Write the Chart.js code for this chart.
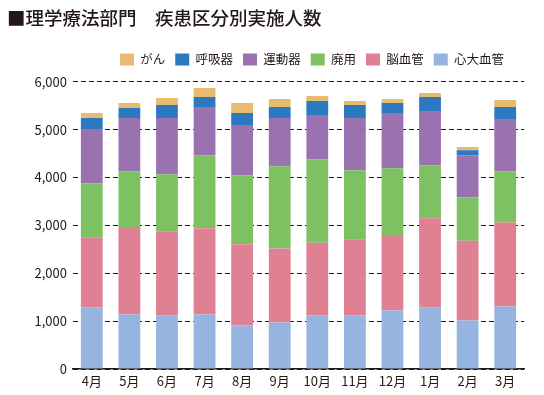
<!DOCTYPE html>
<html lang="ja">
<head>
<meta charset="utf-8">
<script src="https://cdn.jsdelivr.net/npm/chart.js@4/dist/chart.umd.min.js"></script>
<style>
  html, body { margin: 0; padding: 0; background: #fff; }
  #wrap { width: 544px; height: 395px; }
</style>
</head>
<body>
<div id="wrap"><canvas id="diseaseChart"></canvas></div>
<script>
// --- data ---
const months = ['4月', '5月', '6月', '7月', '8月', '9月', '10月', '11月', '12月', '1月', '2月', '3月'];

const cardiac     = [1284, 1137, 1117, 1137,  907,  970, 1117, 1117, 1221, 1284, 1012, 1305]; // 心大血管
const cerebral    = [1466, 1829, 1758, 1801, 1696, 1549, 1521, 1591, 1577, 1863, 1668, 1752]; // 脳血管
const disuse      = [1130, 1165, 1193, 1528, 1444, 1717, 1744, 1444, 1396, 1110,  907, 1074]; // 廃用
const locomotor   = [1131, 1110, 1173, 1005, 1047, 1005,  922, 1089, 1151, 1130,  879, 1089]; // 運動器
const respiratory = [ 230,  209,  272,  209,  251,  230,  293,  272,  210,  293,  105,  251]; // 呼吸器
const cancer      = [ 104,  105,  146,  189,  210,  168,  104,   84,   84,   84,   63,  147]; // がん

const yTicks = [0, 1000, 2000, 3000, 4000, 5000, 6000];

const FONT = "'Noto Sans CJK JP', 'Noto Sans', sans-serif";
const INK = '#231815';

// nudge title / legend to where the original has them
const layoutTweak = {
    id: 'layoutTweak',
    beforeInit(chart) {
        const fit = chart.legend.fit;
        chart.legend.fit = function () {
            fit.call(this);
            this.height += 6;
        };
    },
    afterLayout(chart) {
        chart.legend.right -= 10;
        chart.titleBlock.left += 7;
    }
};

const ctx = document.getElementById('diseaseChart').getContext('2d');
new Chart(ctx, {
    type: 'bar',
    data: {
        labels: months,
        datasets: [
            { label: '心大血管', data: cardiac,     backgroundColor: '#95B4E0' },
            { label: '脳血管',   data: cerebral,    backgroundColor: '#DF8093' },
            { label: '廃用',     data: disuse,      backgroundColor: '#7DC163' },
            { label: '運動器',   data: locomotor,   backgroundColor: '#9B72B0' },
            { label: '呼吸器',   data: respiratory, backgroundColor: '#2A79C1' },
            { label: 'がん',     data: cancer,      backgroundColor: '#E8BC70' }
        ]
    },
    options: {
        responsive: true,
        maintainAspectRatio: false,
        animation: false,
        layout: { padding: { left: 0, right: 20, top: 0, bottom: 0 } },
        datasets: {
            bar: { categoryPercentage: 1, barPercentage: 0.58, borderWidth: 0 }
        },
        plugins: {
            title: {
                display: true,
                text: '■理学療法部門　疾患区分別実施人数',
                align: 'start',
                color: INK,
                font: { family: FONT, size: 18.5, weight: '500' },
                padding: { top: 7, bottom: 14 }
            },
            legend: {
                display: true,
                position: 'top',
                align: 'end',
                fullSize: false,
                reverse: true,
                labels: {
                    boxWidth: 14,
                    boxHeight: 12,
                    padding: 10,
                    color: INK,
                    font: { family: FONT, size: 12.5 }
                }
            },
            tooltip: { enabled: false }
        },
        scales: {
            x: {
                stacked: true,
                grid: { display: false, drawTicks: false },
                border: { display: true, color: INK, width: 1.5 },
                ticks: { color: INK, padding: 4, font: { family: FONT, size: 13 } },
                afterFit(scale) { scale.height = 26; }
            },
            y: {
                stacked: true,
                min: 0,
                max: 6000,
                afterBuildTicks(scale) { scale.ticks = yTicks.map(v => ({ value: v })); },
                grid: { color: INK, lineWidth: 1, drawTicks: false },
                border: { display: false, dash: [5, 3] },
                ticks: {
                    color: INK,
                    padding: 6,
                    font: { family: FONT, size: 13 },
                    callback: v => v.toLocaleString('en-US')
                },
                afterFit(scale) { scale.width = 73; }
            }
        }
    },
    plugins: [layoutTweak]
});
</script>
</body>
</html>
